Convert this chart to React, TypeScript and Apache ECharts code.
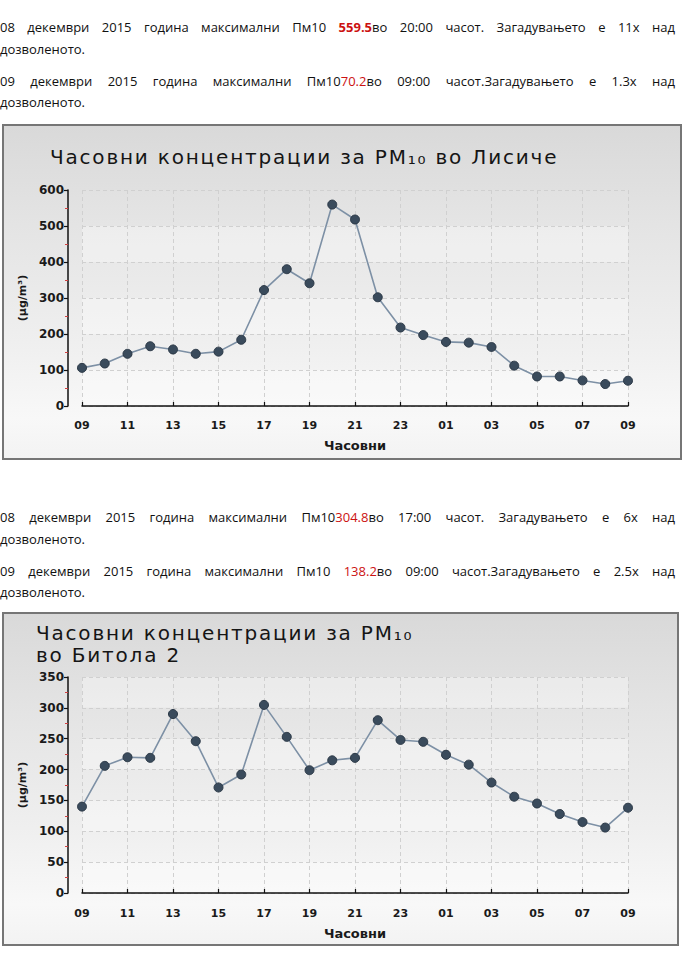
import React, { useEffect, useRef } from "react";
import * as echarts from "echarts";

// ---------- data ----------
const hours = [
  "09", "10", "11", "12", "13", "14", "15", "16", "17", "18", "19", "20",
  "21", "22", "23", "00", "01", "02", "03", "04", "05", "06", "07", "08", "09",
];
const lisiceValues = [
  106, 118, 145, 166, 157, 145, 151, 184, 322, 380, 341, 559.5,
  518, 302, 218, 197, 178, 176, 164, 112, 82, 82, 71, 61, 70.2,
];
const bitolaValues = [
  140, 206, 220, 219, 290, 246, 171, 192, 304.8, 253, 199, 215,
  219, 280, 248, 245, 224, 208, 179, 156, 145, 128, 115, 106, 138.2,
];
const lisiceYMax = 600;
const lisiceYStep = 100;
const bitolaYMax = 350;
const bitolaYStep = 50;
const lisiceTitle = ["Часовни концентрации за PM₁₀ во Лисиче"];
const bitolaTitle = ["Часовни концентрации за PM₁₀", "во Битола 2"];
const yAxisName = "(µg/m³)";
const xAxisName = "Часовни";

// ---------- chart option ----------
type Cfg = {
  values: number[];
  max: number;
  step: number;
  titles: string[];
  titleX: number;
  titleY: number[];
  gridTop: number;
  gridBottom: number;
  xOffset: number;
};

const FONT = "DejaVu Sans";

function makeOption(c: Cfg) {
  return {
    animation: false,
    graphic: c.titles.map((t, i) => ({
      type: "text",
      x: c.titleX,
      y: c.titleY[i],
      style: {
        text: t,
        fontSize: 20,
        fontFamily: FONT,
        fill: "#151515",
        align: "left",
        verticalAlign: "middle",
      },
    })),
    grid: { left: 82, right: 62, top: c.gridTop, bottom: c.gridBottom },
    xAxis: {
      type: "category",
      data: hours,
      boundaryGap: false,
      offset: c.xOffset,
      axisLine: { lineStyle: { color: "#111", width: 1.5 } },
      axisTick: {
        inside: true,
        interval: 1,
        length: 4,
        lineStyle: { color: "#111", width: 1.2 },
      },
      axisLabel: {
        interval: 1,
        margin: 3,
        fontFamily: FONT,
        fontWeight: "bold",
        fontSize: 11,
        color: "#1a1a1a",
      },
      splitLine: {
        show: true,
        interval: 1,
        lineStyle: { color: "#d0d0d0", type: [4, 3], width: 1 },
      },
      name: xAxisName,
      nameLocation: "middle",
      nameGap: 22,
      nameTextStyle: {
        fontFamily: FONT,
        fontWeight: "bold",
        fontSize: 13,
        color: "#1a1a1a",
      },
    },
    yAxis: {
      type: "value",
      min: 0,
      max: c.max,
      interval: c.step,
      offset: 14,
      axisLine: { show: true, lineStyle: { color: "#111", width: 1.5 } },
      axisTick: { show: true, length: 4, lineStyle: { color: "#111", width: 1.2 } },
      minorTick: {
        show: true,
        splitNumber: 2,
        length: 3,
        lineStyle: { color: "#d04040", width: 1 },
      },
      axisLabel: {
        margin: 4,
        fontFamily: FONT,
        fontWeight: "bold",
        fontSize: 12,
        color: "#1a1a1a",
      },
      splitLine: {
        show: true,
        lineStyle: { color: "#d0d0d0", type: [4, 3], width: 1 },
      },
      splitArea: {
        show: true,
        areaStyle: { color: ["rgba(255,255,255,0.35)", "rgba(255,255,255,0.05)"] },
      },
      name: yAxisName,
      nameLocation: "middle",
      nameRotate: 90,
      nameGap: 31,
      nameTextStyle: {
        fontFamily: FONT,
        fontWeight: "bold",
        fontSize: 11,
        color: "#1a1a1a",
      },
    },
    series: [
      {
        type: "line",
        data: c.values,
        symbol: "circle",
        symbolSize: 9,
        lineStyle: { color: "#7d90a5", width: 1.6 },
        itemStyle: { color: "#3a4b5c", borderColor: "#2b3846", borderWidth: 1 },
      },
    ],
  };
}

// ---------- components ----------
function Chart({ top, height, boxH, boxW, cfg }: { top: number; height: number; boxH: number; boxW: number; cfg: Cfg }) {
  const ref = useRef<HTMLDivElement>(null);
  useEffect(() => {
    if (!ref.current) return;
    const chart = echarts.init(ref.current, undefined, { renderer: "svg" });
    chart.setOption(makeOption(cfg) as any);
    return () => chart.dispose();
  }, []);
  return (
    <>
      <div
        style={{
          position: "absolute",
          left: 2,
          top: top + 4,
          width: boxW,
          height: boxH,
          boxSizing: "border-box",
          border: "2px solid #767676",
          background:
            "linear-gradient(180deg, #d9d9d9 0%, #e4e4e4 30%, #efefef 65%, #f8f8f8 88%, #f3f3f3 100%)",
        }}
      />
      <div
        ref={ref}
        className="ech"
        style={{ position: "absolute", left: 0, top, width: 690, height }}
      />
    </>
  );
}

const red = { color: "#cc1111" };

function Line({ y, children, justify }: { y: number; children: React.ReactNode; justify?: boolean }) {
  return (
    <div
      style={{
        position: "absolute",
        left: 0,
        top: y - 10,
        width: 675,
        height: 20,
        lineHeight: "20px",
        fontFamily: '"Open Sans", sans-serif',
        fontSize: 13,
        color: "#111",
        textAlign: justify ? "justify" : "left",
        textAlignLast: justify ? "justify" : "left",
      }}
    >
      {children}
    </div>
  );
}

export default function App() {
  return (
    <div style={{ position: "absolute", left: 0, top: 0, width: 690, height: 953, background: "#fff" }}>
      <style>{'.ech text[style*="20px"]{letter-spacing:1.8px;}'}</style>
      <Line y={27} justify>
        08 декември 2015 година максимални Пм10 <span style={{ ...red, fontWeight: "bold" }}>559.5</span>во 20:00 часот. Загадувањето е 11x над
      </Line>
      <Line y={49}>дозволеното.</Line>
      <Line y={81} justify>
        09 декември 2015 година максимални Пм10<span style={red}>70.2</span>во 09:00 часот.Загадувањето е 1.3x над
      </Line>
      <Line y={102}>дозволеното.</Line>

      <Chart
        top={120}
        height={345}
        boxW={680}
        boxH={336}
        cfg={{
          values: lisiceValues,
          max: lisiceYMax,
          step: lisiceYStep,
          titles: lisiceTitle,
          titleX: 50,
          titleY: [37],
          gridTop: 70,
          gridBottom: 59,
          xOffset: 11,
        }}
      />

      <Line y={517} justify>
        08 декември 2015 година максимални Пм10<span style={red}>304.8</span>во 17:00 часот. Загадувањето е 6x над
      </Line>
      <Line y={539}>дозволеното.</Line>
      <Line y={571} justify>
        09 декември 2015 година максимални Пм10 <span style={red}>138.2</span>во 09:00 часот.Загадувањето е 2.5x над
      </Line>
      <Line y={592}>дозволеното.</Line>

      <Chart
        top={608}
        height={345}
        boxW={677}
        boxH={334}
        cfg={{
          values: bitolaValues,
          max: bitolaYMax,
          step: bitolaYStep,
          titles: bitolaTitle,
          titleX: 36,
          titleY: [25, 47],
          gridTop: 69,
          gridBottom: 60,
          xOffset: 12,
        }}
      />
    </div>
  );
}
